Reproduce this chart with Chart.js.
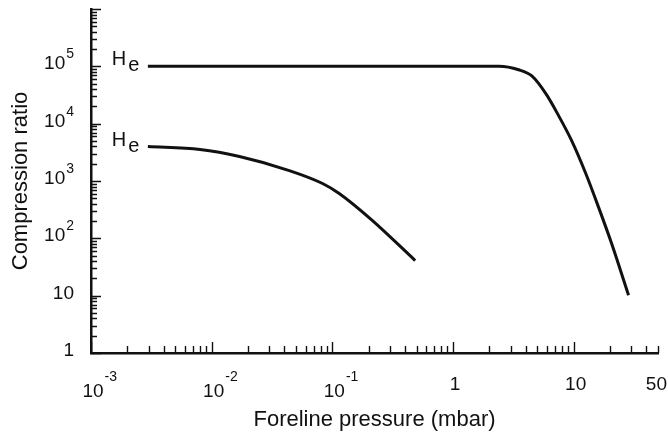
<!DOCTYPE html>
<html>
<head>
<meta charset="utf-8">
<script src="https://cdn.jsdelivr.net/npm/chart.js@4.4.0/dist/chart.umd.min.js"></script>
<style>
  html, body { margin: 0; padding: 0; background: #fff; }
  #wrap { width: 668px; height: 436px; }
</style>
</head>
<body>
<div id="wrap"><canvas id="plot" width="668" height="436"></canvas></div>
<script>
// values (mbar, compression ratio)
const upperPressure = [0.00296, 0.01, 0.1, 1, 2.4, 3.5, 4.5, 5.9, 7.5, 9.6, 12.6, 16.1, 20.6, 28.5];
const upperRatio = [1e5, 1e5, 1e5, 1e5, 1e5, 8.7e4, 6.8e4, 3.3e4, 1.38e4, 5100, 1350, 346, 82, 10.2];
const lowerPressure = [0.00296, 0.008, 0.017, 0.044, 0.083, 0.114, 0.214, 0.486];
const lowerRatio = [3980, 3530, 2670, 1520, 905, 606, 206, 41];
const seriesLabels = ['He', 'He'];

const xTickValues = [0.001, 0.01, 0.1, 1, 10, 50];
const xTickLabels = ['10^-3', '10^-2', '10^-1', '1', '10', '50'];
const yTickValues = [1, 10, 100, 1000, 10000, 100000];
const yTickLabels = ['1', '10', '10^2', '10^3', '10^4', '10^5'];

const FONT = '"Liberation Sans", Arial, sans-serif';
const INK = '#111';

function toPoints(xs, ys) {
  return xs.map((x, i) => ({ x: x, y: ys[i] }));
}

// 1..9 per decade, powers of ten flagged as major
function logTicks(min, max) {
  const ticks = [];
  for (let p = Math.floor(Math.log10(min)); p <= Math.ceil(Math.log10(max)); p++) {
    for (let m = 1; m <= 9; m++) {
      const v = m * Math.pow(10, p);
      if (v >= min * 0.999 && v <= max * 1.001) ticks.push({ value: v, major: m === 1 });
    }
  }
  return ticks;
}

function drawLabel(ctx, text, px, baseY, expY, align) {
  const parts = text.split('^');
  ctx.font = '19px ' + FONT;
  const bw = ctx.measureText(parts[0]).width;
  let ew = 0;
  if (parts[1]) {
    ctx.font = '14px ' + FONT;
    ew = ctx.measureText(parts[1]).width + 1;
  }
  let left;
  if (align === 'right') left = px - bw - ew;
  else left = Math.min(px - bw / 2 + 2, 667 - bw);
  ctx.textAlign = 'left';
  ctx.textBaseline = 'alphabetic';
  ctx.font = '19px ' + FONT;
  ctx.fillText(parts[0], left, baseY);
  if (parts[1]) {
    ctx.font = '14px ' + FONT;
    ctx.fillText(parts[1], left + bw + 1, expY);
  }
}

const axisDecor = {
  id: 'axisDecor',
  afterDraw(chart) {
    const ctx = chart.ctx;
    const xs = chart.scales.x;
    const ys = chart.scales.y;
    const area = chart.chartArea;
    ctx.save();
    ctx.strokeStyle = INK;
    ctx.lineWidth = 1.4;
    ctx.beginPath();
    ys.ticks.forEach(t => {
      const py = Math.round(ys.getPixelForValue(t.value)) + 0.5;
      ctx.moveTo(area.left, py);
      ctx.lineTo(area.left + (t.major ? 10 : 6), py);
    });
    xs.ticks.forEach(t => {
      const px = Math.round(xs.getPixelForValue(t.value)) + 0.5;
      ctx.moveTo(px, area.bottom);
      ctx.lineTo(px, area.bottom - (t.major ? 11 : 7));
    });
    ctx.stroke();

    ctx.fillStyle = INK;
    yTickValues.forEach((v, i) => {
      const py = ys.getPixelForValue(v);
      drawLabel(ctx, yTickLabels[i], area.left - 17, py + 3, py - 8, 'right');
    });
    xTickValues.forEach((v, i) => {
      const px = xs.getPixelForValue(v);
      const hasExp = xTickLabels[i].indexOf('^') >= 0;
      drawLabel(ctx, xTickLabels[i], px, area.bottom + (hasExp ? 44 : 37), area.bottom + 28, 'center');
    });

    // series names at the start of each curve
    chart.data.datasets.forEach((ds, i) => {
      const first = ds.data[0];
      const px = xs.getPixelForValue(first.x);
      const py = ys.getPixelForValue(first.y);
      const name = seriesLabels[i];
      ctx.font = '20px ' + FONT;
      ctx.textAlign = 'left';
      ctx.textBaseline = 'alphabetic';
      ctx.fillText(name[0], px - 36, py - 1);
      const hw = ctx.measureText(name[0]).width;
      ctx.fillText(name.slice(1), px - 36 + hw + 2, py + 5);
    });
    ctx.restore();
  }
};

const ctx = document.getElementById('plot').getContext('2d');
new Chart(ctx, {
  type: 'line',
  data: {
    datasets: [
      {
        label: seriesLabels[0],
        data: toPoints(upperPressure, upperRatio),
        borderColor: INK,
        borderWidth: 3,
        pointRadius: 0,
        cubicInterpolationMode: 'monotone',
        fill: false
      },
      {
        label: seriesLabels[1],
        data: toPoints(lowerPressure, lowerRatio),
        borderColor: INK,
        borderWidth: 3,
        pointRadius: 0,
        cubicInterpolationMode: 'monotone',
        fill: false
      }
    ]
  },
  options: {
    responsive: false,
    animation: false,
    devicePixelRatio: 1,
    layout: { padding: { top: 9, right: 10, left: 0, bottom: 0 } },
    plugins: {
      legend: { display: false },
      tooltip: { enabled: false }
    },
    scales: {
      x: {
        type: 'logarithmic',
        min: 0.001,
        max: 50,
        grid: { display: false },
        border: { display: true, color: INK, width: 2.5 },
        ticks: { display: false },
        afterBuildTicks: scale => { scale.ticks = logTicks(0.001, 50); },
        afterFit: scale => { scale.height = 83; },
        title: {
          display: true,
          text: 'Foreline pressure (mbar)',
          color: INK,
          font: { family: FONT, size: 22 },
          padding: { top: 0, bottom: 3 }
        }
      },
      y: {
        type: 'logarithmic',
        min: 1,
        max: 1e6,
        grid: { display: false },
        border: { display: true, color: INK, width: 2.5 },
        ticks: { display: false },
        afterBuildTicks: scale => { scale.ticks = logTicks(1, 1e6); },
        afterFit: scale => { scale.width = 91; },
        title: {
          display: true,
          text: 'Compression ratio',
          color: INK,
          font: { family: FONT, size: 22 },
          padding: { top: 8, bottom: 0 }
        }
      }
    }
  },
  plugins: [axisDecor]
});
</script>
</body>
</html>
